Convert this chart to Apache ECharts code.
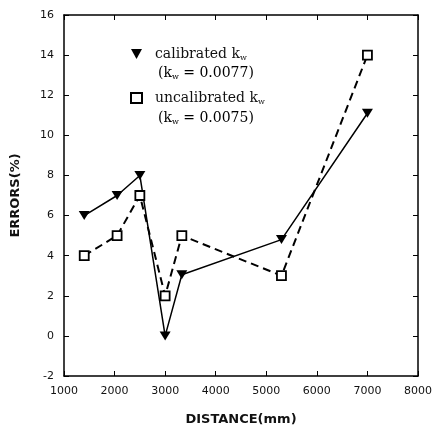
<!DOCTYPE html>
<html>
<head>
<meta charset="utf-8">
<script src="https://cdn.jsdelivr.net/npm/echarts@6/dist/echarts.min.js"></script>
<style>html,body{margin:0;padding:0;background:#fff}#c{width:436px;height:431px}</style>
</head>
<body>
<div id="c"></div>
<script>
// Data
const distance = [1400, 2050, 2500, 3000, 3330, 5300, 7000];
const errCalibrated = [6, 7, 8, 0, 3.05, 4.8, 11.1];
const errUncalibrated = [4, 5, 7, 2, 5, 3, 14];
const seriesNames = ['calibrated kw', 'uncalibrated kw'];
const kwValues = ['0.0077', '0.0075'];
const xTicks = { min: 1000, max: 8000, interval: 1000 };
const yTicks = { min: -2, max: 16, interval: 2 };

const chart = echarts.init(document.getElementById('c'));
const tickFont = { fontFamily: 'DejaVu Sans', fontSize: 11, color: '#111' };
const titleFont = { fontFamily: 'DejaVu Sans', fontWeight: 'bold', fontSize: 13, color: '#111' };
const rich = {
  t: { fontFamily: 'DejaVu Serif', fontSize: 14, color: '#111', lineHeight: 16 },
  s: { fontFamily: 'DejaVu Serif', fontSize: 8, color: '#111', lineHeight: 16, verticalAlign: 'bottom' }
};
const triPath = 'path://M0,0L10,0L5,9Z';

const axisCommon = {
  type: 'value',
  axisLine: { show: true, onZero: false, lineStyle: { color: '#000', width: 1.5 } },
  axisTick: { show: true, inside: true, length: 5, lineStyle: { color: '#000', width: 1 } },
  splitLine: { show: false }
};

chart.setOption({
  animation: false,
  backgroundColor: '#fff',
  grid: { left: 64, right: 18, top: 15, bottom: 55 },
  xAxis: [
    Object.assign({}, axisCommon, {
      min: xTicks.min, max: xTicks.max, interval: xTicks.interval,
      position: 'bottom',
      name: 'DISTANCE(mm)', nameLocation: 'middle', nameGap: 37, nameTextStyle: titleFont,
      axisLabel: Object.assign({ margin: 10, formatter: v => String(v) }, tickFont)
    }),
    Object.assign({}, axisCommon, {
      min: xTicks.min, max: xTicks.max, interval: xTicks.interval,
      position: 'top', axisLabel: { show: false }
    })
  ],
  yAxis: [
    Object.assign({}, axisCommon, {
      min: yTicks.min, max: yTicks.max, interval: yTicks.interval,
      position: 'left',
      name: 'ERRORS(%)', nameLocation: 'middle', nameGap: 42, nameTextStyle: titleFont,
      axisLabel: Object.assign({ margin: 10, formatter: v => String(v) }, tickFont)
    }),
    Object.assign({}, axisCommon, {
      min: yTicks.min, max: yTicks.max, interval: yTicks.interval,
      position: 'right', axisLabel: { show: false }
    })
  ],
  legend: {
    orient: 'vertical', left: 125, top: 42, itemGap: 29,
    itemWidth: 11, itemHeight: 10,
    data: [
      { name: seriesNames[0], icon: triPath, itemStyle: { color: '#000' } },
      { name: seriesNames[1], icon: 'rect', itemStyle: { color: '#fff', borderColor: '#000', borderWidth: 2 } }
    ],
    formatter: n => '{t|' + n.slice(0, -1) + '}{s|w}',
    textStyle: { rich: rich, padding: [0, 0, 0, 8] }
  },
  graphic: kwValues.map((v, i) => ({
    type: 'text', left: 158, top: 66 + i * 45,
    style: { text: '{t|(k}{s|w}{t| = ' + v + ')}', rich: rich }
  })),
  series: [
    {
      name: seriesNames[0], type: 'line',
      data: distance.map((d, i) => [d, errCalibrated[i]]),
      symbol: triPath, symbolSize: [11, 10], symbolKeepAspect: true,
      itemStyle: { color: '#000' },
      lineStyle: { color: '#000', width: 1.5 }
    },
    {
      name: seriesNames[1], type: 'line',
      data: distance.map((d, i) => [d, errUncalibrated[i]]),
      symbol: 'rect', symbolSize: 9,
      itemStyle: { color: '#fff', borderColor: '#000', borderWidth: 1.8 },
      lineStyle: { color: '#000', width: 2, type: [8, 5] }
    }
  ]
});
</script>
</body>
</html>
